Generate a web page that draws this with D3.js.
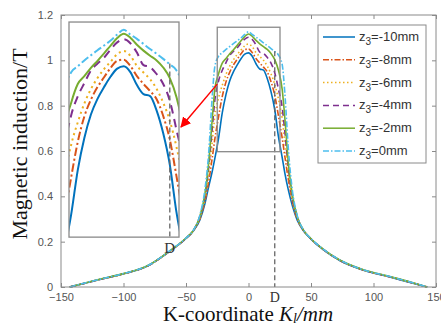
<!DOCTYPE html>
<html><head><meta charset="utf-8">
<script src="https://cdn.jsdelivr.net/npm/d3@7/dist/d3.min.js"></script>
<style>html,body{margin:0;padding:0;background:#fff;}svg{display:block;}</style>
</head><body><svg id="c" width="441" height="327"></svg>
<script>
// ---------- data ----------
const kCoord = [-143,-130,-120,-100,-80,-63,-50,-44,-39,-35,-32,-29,-27,-24,-21,-18,-15,-12,-9,-6,-3,0,3,6,9,12,15,18,21,24,27,29,32,35,39,44,50,60,73,92,113,130,143];
const zm10 = [0,0.018,0.032,0.058,0.095,0.158,0.214,0.248, 0.295,0.365,0.44,0.51,0.565, 0.655,0.768,0.85,0.91,0.95,0.98,1.007,1.027,1.033,1.018,0.985,0.962,0.957,0.92,0.862,0.782,0.662, 0.57,0.505,0.425,0.36,0.295, 0.248,0.211,0.164,0.117,0.074,0.044,0.019,0];
const zm8  = [0,0.018,0.032,0.058,0.095,0.158,0.215,0.25, 0.30,0.375,0.46,0.57,0.65, 0.75,0.84,0.905,0.948,0.98,1.005,1.029,1.047,1.05,1.034,1.008,0.988,0.97,0.949,0.906,0.846,0.754, 0.655,0.58,0.47,0.38,0.30, 0.25,0.212,0.165,0.118,0.075,0.045,0.02,0];
const zm6  = [0,0.018,0.032,0.058,0.095,0.158,0.215,0.25, 0.305,0.385,0.49,0.64,0.75, 0.833,0.89,0.938,0.975,1.003,1.026,1.045,1.064,1.072,1.06,1.034,1.017,1.0,0.975,0.94,0.894,0.828, 0.74,0.64,0.50,0.39,0.305, 0.25,0.212,0.165,0.118,0.075,0.045,0.02,0];
const zm4  = [0,0.018,0.032,0.058,0.095,0.158,0.215,0.25, 0.31,0.395,0.52,0.70,0.82, 0.908,0.956,0.99,1.022,1.04,1.055,1.076,1.094,1.102,1.092,1.068,1.036,1.031,1.013,0.988,0.945,0.872, 0.79,0.69,0.52,0.40,0.31, 0.25,0.212,0.165,0.118,0.075,0.045,0.02,0];
const zm2  = [0,0.019,0.033,0.059,0.096,0.159,0.216,0.251, 0.31,0.405,0.54,0.74,0.87, 0.94,0.988,1.008,1.029,1.047,1.066,1.086,1.105,1.116,1.106,1.088,1.073,1.06,1.048,1.03,1.003,0.955, 0.87,0.75,0.54,0.41,0.31, 0.251,0.213,0.166,0.119,0.076,0.046,0.021,0];
const z0   = [0,0.019,0.033,0.059,0.096,0.159,0.216,0.252, 0.315,0.425,0.58,0.84,0.97, 1.018,1.033,1.048,1.061,1.074,1.086,1.099,1.114,1.126,1.114,1.103,1.09,1.077,1.065,1.052,1.038,1.023, 0.98,0.86,0.60,0.43,0.315, 0.252,0.213,0.166,0.119,0.076,0.046,0.021,0];
const seriesNames = ["-10mm","-8mm","-6mm","-4mm","-2mm","0mm"];
const seriesValues = [zm10, zm8, zm6, zm4, zm2, z0];
const xTicks = [-150,-100,-50,0,50,100,150];
const yTicks = [0,0.2,0.4,0.6,0.8,1,1.2];
const yTickLabels = ["0","0.2","0.4","0.6","0.8","1","1.2"];
// annotations (in main data coordinates)
const zoomX = [-25, 25.2], zoomY = [0.597, 1.146];
const insetX = [-143.6, -55.6], insetY = [0.22, 1.169];
const dValue = 21, dTop = 1.04;
const arrowFrom = [-25, 0.895], arrowTo = [-54, 0.706];

// ---------- styles ----------
const colors = ["#0072BD","#D95319","#EDB120","#7E2F8E","#77AC30","#4DBEEE"];
const dashes = [null,"6,2,1.5,2","1.5,2.5","6,4",null,"6,2,1.5,2"];
const svg = d3.select("#c");
const m = {l:61, r:436, t:15, b:287};
const x = d3.scaleLinear().domain([-150,150]).range([m.l, m.r]);
const y = d3.scaleLinear().domain([0,1.2]).range([m.b, m.t]);
const axisColor = "#8a8a8a", tickText = "#555";

// plot data lines
const data = seriesValues.map(v => kCoord.map((k,i)=>[k, v[i]]));
const mainLine = d3.line().x(d=>x(d[0])).y(d=>y(d[1])).curve(d3.curveMonotoneX);
const gMain = svg.append("g");
data.forEach((d,i)=>{
  gMain.append("path").attr("d", mainLine(d)).attr("fill","none")
    .attr("stroke", colors[i]).attr("stroke-width",1.6)
    .attr("stroke-dasharray", dashes[i]);
});

// D dashed line main
svg.append("line").attr("x1",x(dValue)).attr("x2",x(dValue)).attr("y1",y(dTop)).attr("y2",y(0))
  .attr("stroke","#666").attr("stroke-width",1.3).attr("stroke-dasharray","5,3");

// zoom rect
svg.append("rect").attr("x",x(zoomX[0])).attr("y",y(zoomY[1]))
  .attr("width",x(zoomX[1])-x(zoomX[0])).attr("height",y(zoomY[0])-y(zoomY[1]))
  .attr("fill","none").attr("stroke","#8a8a8a").attr("stroke-width",1.3);

// axes box
svg.append("rect").attr("x",m.l).attr("y",m.t).attr("width",m.r-m.l).attr("height",m.b-m.t)
  .attr("fill","none").attr("stroke",axisColor).attr("stroke-width",1);
const axB = d3.axisBottom(x).tickValues(xTicks).tickSize(-4).tickPadding(6).tickFormat(d3.format("d"));
const axL = d3.axisLeft(y).tickValues(yTicks).tickSize(-4).tickPadding(8).tickFormat((d,i)=>yTickLabels[i]);
const axT = d3.axisTop(x).tickValues(xTicks).tickSize(-4).tickFormat("");
const axR = d3.axisRight(y).tickValues(yTicks).tickSize(-4).tickFormat("");
function styleAxis(g){
  g.select(".domain").remove();
  g.selectAll(".tick line").attr("stroke",axisColor);
  g.selectAll(".tick text").attr("fill",tickText).attr("font-family","'Liberation Sans', Arial, sans-serif").attr("font-size",11);
}
svg.append("g").attr("transform",`translate(0,${m.b})`).call(axB).call(styleAxis);
svg.append("g").attr("transform",`translate(${m.l},0)`).call(axL).call(styleAxis);
svg.append("g").attr("transform",`translate(0,${m.t})`).call(axT).call(styleAxis);
svg.append("g").attr("transform",`translate(${m.r},0)`).call(axR).call(styleAxis);

// D label main
svg.append("text").attr("x",x(dValue)).attr("y",302).attr("text-anchor","middle")
  .attr("font-family","'Liberation Serif', 'Times New Roman', serif").attr("font-size",14).attr("fill","#333").text("D");

// ---------- inset ----------
const ix0 = x(insetX[0]), ix1 = x(insetX[1]), iy0 = y(insetY[1]), iy1 = y(insetY[0]);
const xi = d3.scaleLinear().domain(zoomX).range([ix0, ix1]);
const yi = d3.scaleLinear().domain(zoomY).range([iy1, iy0]);
svg.append("rect").attr("x",ix0).attr("y",iy0).attr("width",ix1-ix0).attr("height",iy1-iy0).attr("fill","#fff");
svg.append("clipPath").attr("id","ic").append("rect").attr("x",ix0).attr("y",iy0).attr("width",ix1-ix0).attr("height",iy1-iy0);
const gIn = svg.append("g").attr("clip-path","url(#ic)");
const inLine = d3.line().x(d=>xi(d[0])).y(d=>yi(d[1])).curve(d3.curveMonotoneX);
data.forEach((d,i)=>{
  gIn.append("path").attr("d", inLine(d)).attr("fill","none")
    .attr("stroke", colors[i]).attr("stroke-width",2)
    .attr("stroke-dasharray", dashes[i] ? dashes[i].split(",").map(v=>+v*1.4).join(",") : null);
});
gIn.append("line").attr("x1",xi(dValue)).attr("x2",xi(dValue)).attr("y1",yi(dTop)).attr("y2",iy1)
  .attr("stroke","#666").attr("stroke-width",1.3).attr("stroke-dasharray","5,3");
svg.append("rect").attr("x",ix0).attr("y",iy0).attr("width",ix1-ix0).attr("height",iy1-iy0)
  .attr("fill","none").attr("stroke","#8a8a8a").attr("stroke-width",1.3);
svg.append("text").attr("x",xi(dValue)).attr("y",iy1+16).attr("text-anchor","middle")
  .attr("font-family","'Liberation Serif', 'Times New Roman', serif").attr("font-size",15).attr("fill","#333").text("D");

// arrow
svg.append("defs").append("marker").attr("id","ah").attr("viewBox","0 0 10 10").attr("refX",9).attr("refY",5)
  .attr("markerWidth",7).attr("markerHeight",7).attr("orient","auto")
  .append("path").attr("d","M0,0 L10,5 L0,10 z").attr("fill","#ff0000");
svg.append("line").attr("x1",x(arrowFrom[0])).attr("y1",y(arrowFrom[1])).attr("x2",x(arrowTo[0])).attr("y2",y(arrowTo[1]))
  .attr("stroke","#ff0000").attr("stroke-width",1.5).attr("marker-end","url(#ah)");

// ---------- legend ----------
const lg = svg.append("g");
lg.append("rect").attr("x",318).attr("y",25).attr("width",108).attr("height",138)
  .attr("fill","#fff").attr("stroke","#8a8a8a").attr("stroke-width",1);
seriesNames.forEach((n,i)=>{
  const yy = 37 + i*22.8;
  lg.append("line").attr("x1",323).attr("x2",355).attr("y1",yy).attr("y2",yy)
    .attr("stroke",colors[i]).attr("stroke-width",1.5).attr("stroke-dasharray",dashes[i]);
  const t = lg.append("text").attr("x",359).attr("y",yy+4).attr("fill","#333")
    .attr("font-family","'Liberation Sans', Arial, sans-serif").attr("font-size",13);
  t.append("tspan").text("z");
  t.append("tspan").attr("dy",4).attr("font-size",10).text("3");
  t.append("tspan").attr("dy",-4).text("=" + n);
});

// ---------- axis titles ----------
const xl = svg.append("text").attr("x",248).attr("y",321).attr("text-anchor","middle")
  .attr("font-family","'Liberation Serif', 'Times New Roman', serif").attr("font-size",21).attr("fill","#111");
xl.append("tspan").text("K-coordinate ");
xl.append("tspan").attr("font-style","italic").text("K");
xl.append("tspan").attr("font-style","italic").attr("font-size",14).attr("dy",2).text("l");
xl.append("tspan").attr("font-style","italic").attr("dy",-2).text("/mm");
svg.append("text").attr("transform","translate(27,144) rotate(-90)").attr("text-anchor","middle")
  .attr("font-family","'Liberation Serif', 'Times New Roman', serif").attr("font-size",22).attr("fill","#111")
  .text("Magnetic induction/T");
</script></body></html>
